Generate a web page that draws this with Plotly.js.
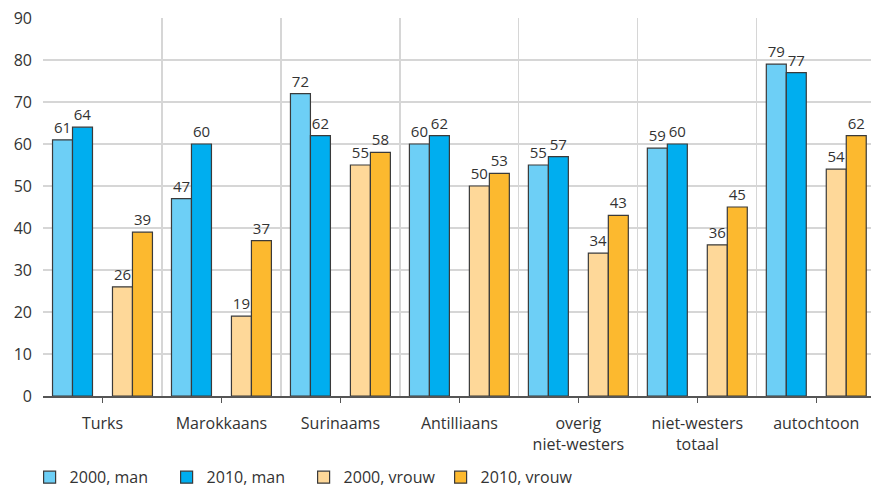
<!DOCTYPE html>
<html>
<head>
<meta charset="utf-8">
<script src="https://cdn.plot.ly/plotly-3.0.1.min.js"></script>
<style>html,body{margin:0;padding:0;background:#fff;}#chart{width:871px;height:491px;}</style>
</head>
<body>
<div id="chart"></div>
<script>
var categories = ["Turks", "Marokkaans", "Surinaams", "Antilliaans", "overig<br>niet-westers", "niet-westers<br>totaal", "autochtoon"];
var man2000 = [61, 47, 72, 60, 55, 59, 79];
var man2010 = [64, 60, 62, 62, 57, 60, 77];
var vrouw2000 = [26, 19, 55, 50, 34, 36, 54];
var vrouw2010 = [39, 37, 58, 53, 43, 45, 62];
var seriesNames = ["2000, man", "2010, man", "2000, vrouw", "2010, vrouw"];
var yTicks = [0, 10, 20, 30, 40, 50, 60, 70, 80, 90];

var colors = ["#6dcff6", "#00aeef", "#fed899", "#fcb92f"];
var font = "Open Sans, Lato, sans-serif";
var txtColor = "#333333";

function barTrace(name, vals, color) {
  return {
    type: "bar", name: name, x: categories, y: vals,
    marker: {color: color, line: {color: "#3a3a3a", width: 1.2}},
    text: vals.map(String), textposition: "outside", cliponaxis: false,
    textfont: {family: font, size: 15, color: txtColor},
    hoverinfo: "x+y"
  };
}
var spacer = {type: "bar", x: categories, y: categories.map(function(){return null;}), showlegend: false, hoverinfo: "skip", marker: {color: "rgba(0,0,0,0)"}};
var tickHelper = {type: "scatter", mode: "markers", x: categories, y: categories.map(function(){return null;}), xaxis: "x2", showlegend: false, hoverinfo: "skip"};

var data = [
  barTrace(seriesNames[0], man2000, colors[0]),
  barTrace(seriesNames[1], man2010, colors[1]),
  spacer,
  barTrace(seriesNames[2], vrouw2000, colors[2]),
  barTrace(seriesNames[3], vrouw2010, colors[3]),
  tickHelper
];

var layout = {
  width: 871, height: 491,
  margin: {l: 43, r: 0, t: 18, b: 95},
  paper_bgcolor: "#fff", plot_bgcolor: "#fff",
  barmode: "group", bargap: 0.16, bargroupgap: 0,
  font: {family: font, size: 16, color: txtColor},
  showlegend: true,
  legend: {orientation: "h", xref: "container", x: 0.034, xanchor: "left", yref: "container", y: 0.028, yanchor: "middle",
           font: {family: font, size: 16, color: txtColor}, traceorder: "normal",
           entrywidth: 92, entrywidthmode: "pixels", bgcolor: "rgba(0,0,0,0)"},
  xaxis: {type: "category", categoryorder: "array", categoryarray: categories, range: [-0.5, 6.46],
          tickson: "boundaries", showgrid: true, gridcolor: "#d6d6d6", gridwidth: 1.2,
          ticks: "", showline: true, linecolor: "#555", linewidth: 1.5, ticklabelstandoff: 12,
          tickfont: {family: font, size: 16, color: txtColor}, fixedrange: true},
  xaxis2: {type: "category", categoryorder: "array", categoryarray: categories, range: [-0.5, 6.46],
           overlaying: "x", anchor: "y", side: "bottom", showgrid: false, showticklabels: false,
           ticks: "outside", ticklen: 6, tickcolor: "#555", tickwidth: 1.2, showline: false, zeroline: false},
  yaxis: {range: [0, 90], tickvals: yTicks, ticktext: yTicks.map(String), showgrid: true, gridcolor: "#d6d6d6", gridwidth: 1.2,
          zeroline: false, showline: false, ticks: "", ticklabelstandoff: 10,
          tickfont: {family: font, size: 16, color: txtColor}, fixedrange: true}
};

Plotly.newPlot("chart", data, layout, {displayModeBar: false, staticPlot: true});
</script>
</body>
</html>
